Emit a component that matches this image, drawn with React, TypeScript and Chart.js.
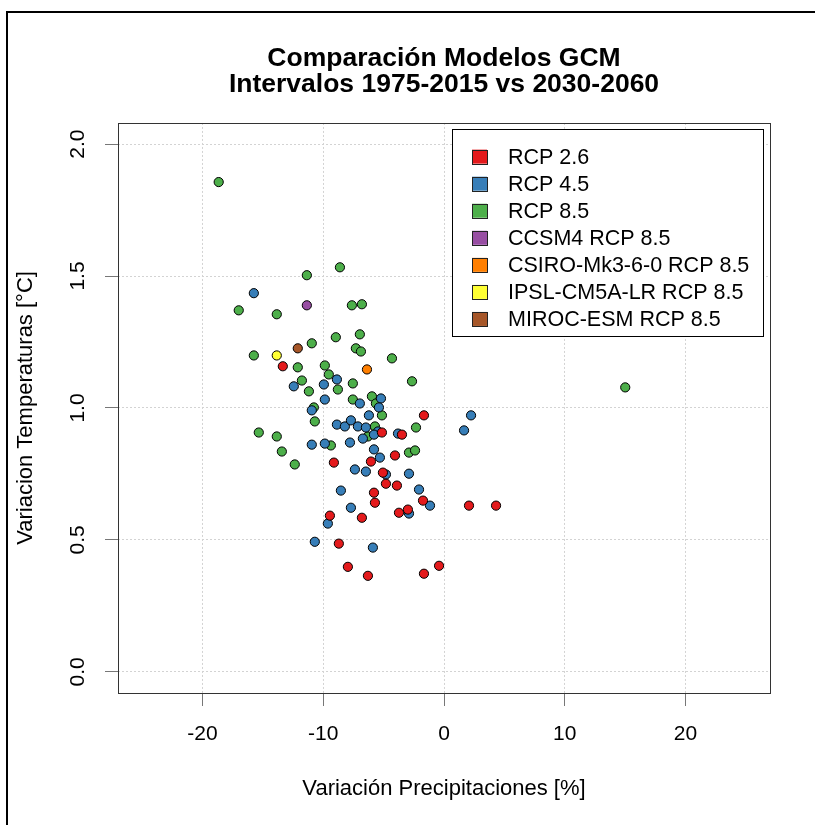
import React, { useEffect, useRef } from 'react';
import { Chart, registerables } from 'chart.js';

Chart.register(...registerables);

const TITLE_LINES = ['Comparación Modelos GCM', 'Intervalos 1975-2015 vs 2030-2060'];
const X_TITLE = 'Variación Precipitaciones [%]';
const Y_TITLE = 'Variacion Temperaturas [°C]';

const SERIES_LABELS = [
  'RCP 2.6',
  'RCP 4.5',
  'RCP 8.5',
  'CCSM4 RCP 8.5',
  'CSIRO-Mk3-6-0 RCP 8.5',
  'IPSL-CM5A-LR RCP 8.5',
  'MIROC-ESM RCP 8.5',
];
const SERIES_COLORS = ['#E41A1C', '#377EB8', '#4DAF4A', '#984EA3', '#FF7F00', '#FFFF33', '#A65628'];

// RCP 2.6
const rcp26Precip = [-13.35, -9.12, -1.66, -5.14, -3.48, -4.06, -6.05, -5.06, -4.81, -3.9, -5.8, -5.72, -1.74, -6.8, -3.73, -2.99, -9.45, -8.71, -7.96, -6.3, -1.66, -0.41, 2.07, 4.31];
const rcp26Temp = [1.158, 0.793, 0.972, 0.907, 0.899, 0.82, 0.797, 0.755, 0.713, 0.706, 0.679, 0.641, 0.649, 0.584, 0.603, 0.615, 0.592, 0.486, 0.398, 0.364, 0.372, 0.402, 0.63, 0.63];

// RCP 4.5
const rcp45Precip = [-15.75, -12.44, -9.95, -8.87, -9.87, -10.95, -6.97, -5.22, -5.39, -6.22, -8.87, -8.21, -7.71, -7.13, -6.47, -5.47, -5.8, -3.81, -6.72, -7.79, -10.95, -9.87, -5.8, -5.31, -7.38, -6.47, -4.81, -2.9, -8.54, -2.07, -1.16, -7.71, -2.9, -9.62, -10.7, -5.89, 2.24, 1.66];
const rcp45Temp = [1.435, 1.082, 1.089, 1.108, 1.032, 0.991, 1.017, 1.036, 1.002, 0.972, 0.937, 0.93, 0.953, 0.93, 0.926, 0.911, 0.899, 0.903, 0.884, 0.869, 0.861, 0.865, 0.843, 0.812, 0.767, 0.759, 0.748, 0.751, 0.687, 0.691, 0.63, 0.622, 0.6, 0.562, 0.493, 0.471, 0.972, 0.915];

// RCP 8.5
const rcp85Precip = [-18.66, -11.36, -8.62, -17.0, -13.85, -7.63, -6.8, -10.95, -8.96, -6.97, -7.3, -6.88, -4.31, -15.75, -12.11, -9.87, -9.54, -11.77, -8.79, -7.55, -2.65, -11.19, -7.55, -5.97, -5.64, -10.78, -5.14, -10.7, -5.72, -2.32, -6.3, -15.34, -13.85, -13.43, -9.37, -12.36, -2.9, -2.4, 15.01];
const rcp85Temp = [1.856, 1.503, 1.533, 1.37, 1.355, 1.389, 1.393, 1.245, 1.268, 1.279, 1.226, 1.214, 1.188, 1.199, 1.154, 1.161, 1.127, 1.104, 1.07, 1.093, 1.101, 1.063, 1.032, 1.044, 1.017, 1.002, 0.972, 0.949, 0.93, 0.926, 0.892, 0.907, 0.892, 0.835, 0.858, 0.786, 0.831, 0.839, 1.078];

// Highlighted models (RCP 8.5)
const ccsm4Precip = [-11.36];
const ccsm4Temp = [1.389];
const csiroPrecip = [-6.38];
const csiroTemp = [1.146];
const ipslPrecip = [-13.85];
const ipslTemp = [1.199];
const mirocPrecip = [-12.11];
const mirocTemp = [1.226];

const X_MIN = -27;
const X_MAX = 27;
const Y_MIN = -0.08;
const Y_MAX = 2.08;

const FONT = 'Liberation Sans, Arial, Helvetica, sans-serif';

const toPoints = (xs: number[], ys: number[]) => xs.map((x, i) => ({ x, y: ys[i] }));

const plotBoxPlugin = {
  id: 'plotBox',
  afterDatasetsDraw(chart: any) {
    const { ctx, chartArea } = chart;
    ctx.save();
    ctx.strokeStyle = '#333';
    ctx.lineWidth = 1;
    ctx.strokeRect(
      Math.round(chartArea.left) + 0.5,
      Math.round(chartArea.top) + 0.5,
      Math.round(chartArea.right - chartArea.left),
      Math.round(chartArea.bottom - chartArea.top)
    );
    ctx.restore();
  },
};

const insetLegendPlugin = {
  id: 'insetLegend',
  afterDraw(chart: any) {
    const { ctx, chartArea } = chart;
    const boxRight = chartArea.right - 7;
    const boxTop = chartArea.top + 6;
    const boxW = 311;
    const boxH = 207;
    const boxLeft = boxRight - boxW;
    ctx.save();
    ctx.fillStyle = '#fff';
    ctx.fillRect(boxLeft, boxTop, boxW, boxH);
    ctx.strokeStyle = '#000';
    ctx.lineWidth = 1;
    ctx.strokeRect(Math.round(boxLeft) + 0.5, Math.round(boxTop) + 0.5, boxW, boxH);
    ctx.font = `21.5px ${FONT}`;
    ctx.textBaseline = 'middle';
    ctx.textAlign = 'left';
    chart.data.datasets.forEach((ds: any, i: number) => {
      const cy = boxTop + 27.7 + i * 27.05;
      const sx = boxLeft + 20;
      ctx.fillStyle = ds.backgroundColor;
      ctx.fillRect(sx, cy - 7, 15, 14);
      ctx.strokeStyle = '#222';
      ctx.strokeRect(Math.round(sx) + 0.5, Math.round(cy - 7) + 0.5, 15, 14);
      ctx.fillStyle = '#000';
      ctx.fillText(ds.label, boxLeft + 56, cy + 1);
    });
    ctx.restore();
  },
};

export default function App() {
  const canvasRef = useRef<HTMLCanvasElement | null>(null);

  useEffect(() => {
    const canvas = canvasRef.current;
    if (!canvas) return;
    const seriesX = [rcp26Precip, rcp45Precip, rcp85Precip, ccsm4Precip, csiroPrecip, ipslPrecip, mirocPrecip];
    const seriesY = [rcp26Temp, rcp45Temp, rcp85Temp, ccsm4Temp, csiroTemp, ipslTemp, mirocTemp];
    const datasets = SERIES_LABELS.map((label, i) => ({
      label,
      data: toPoints(seriesX[i], seriesY[i]),
      backgroundColor: SERIES_COLORS[i],
      borderColor: '#000',
      borderWidth: 1,
      pointRadius: 4.6,
      pointHoverRadius: 4.6,
      showLine: false,
    }));

    const chart = new Chart(canvas, {
      type: 'scatter',
      data: { datasets },
      options: {
        responsive: false,
        animation: false,
        devicePixelRatio: 1,
        layout: { padding: { left: 0, top: 0, right: 45, bottom: 0 } },
        plugins: {
          legend: { display: false },
          tooltip: { enabled: false },
          title: {
            display: true,
            text: TITLE_LINES,
            fullSize: false,
            color: '#000',
            font: { family: FONT, size: 26.5, weight: 'bold', lineHeight: 0.98 },
            padding: { top: 46, bottom: 25 },
          },
        },
        scales: {
          x: {
            type: 'linear',
            position: 'bottom',
            min: X_MIN,
            max: X_MAX,
            afterFit: (s: any) => {
              s.height = 132;
            },
            ticks: {
              stepSize: 10,
              includeBounds: false,
              padding: 16,
              color: '#000',
              maxRotation: 0,
              minRotation: 0,
              font: { family: FONT, size: 21 },
              callback: (v: any) => String(v),
            },
            grid: {
              color: '#D3D3D3',
              lineWidth: 1,
              drawTicks: true,
              tickLength: 13,
              tickColor: '#777',
              tickWidth: 1,
            },
            border: { display: false, dash: [2, 2] },
            title: {
              display: true,
              text: X_TITLE,
              color: '#000',
              font: { family: FONT, size: 22 },
              padding: { top: 0, bottom: 23 },
            },
          },
          y: {
            type: 'linear',
            position: 'left',
            min: Y_MIN,
            max: Y_MAX,
            afterFit: (s: any) => {
              s.width = 118;
            },
            ticks: {
              stepSize: 0.5,
              includeBounds: false,
              padding: 12,
              color: '#000',
              minRotation: 90,
              maxRotation: 90,
              crossAlign: 'center',
              font: { family: FONT, size: 21 },
              callback: (v: any) => Number(v).toFixed(1),
            },
            grid: {
              color: '#D3D3D3',
              lineWidth: 1,
              drawTicks: true,
              tickLength: 13,
              tickColor: '#777',
              tickWidth: 1,
            },
            border: { display: false, dash: [2, 2] },
            title: {
              display: true,
              text: Y_TITLE,
              color: '#000',
              font: { family: FONT, size: 22 },
              padding: { top: 13, bottom: 0 },
            },
          },
        },
      },
      plugins: [plotBoxPlugin, insetLegendPlugin],
    } as any);

    return () => {
      chart.destroy();
    };
  }, []);

  return (
    <div
      style={{
        position: 'fixed',
        left: 0,
        top: 0,
        width: 815,
        height: 825,
        background: '#fff',
        overflow: 'hidden',
      }}
    >
      <canvas
        ref={canvasRef}
        width={815}
        height={825}
        style={{ position: 'absolute', left: 0, top: 0, width: 815, height: 825 }}
      />
      <div
        style={{
          position: 'absolute',
          left: 6,
          top: 11,
          width: 1000,
          height: 1000,
          borderLeft: '2px solid #000',
          borderTop: '2px solid #000',
          pointerEvents: 'none',
        }}
      />
    </div>
  );
}
